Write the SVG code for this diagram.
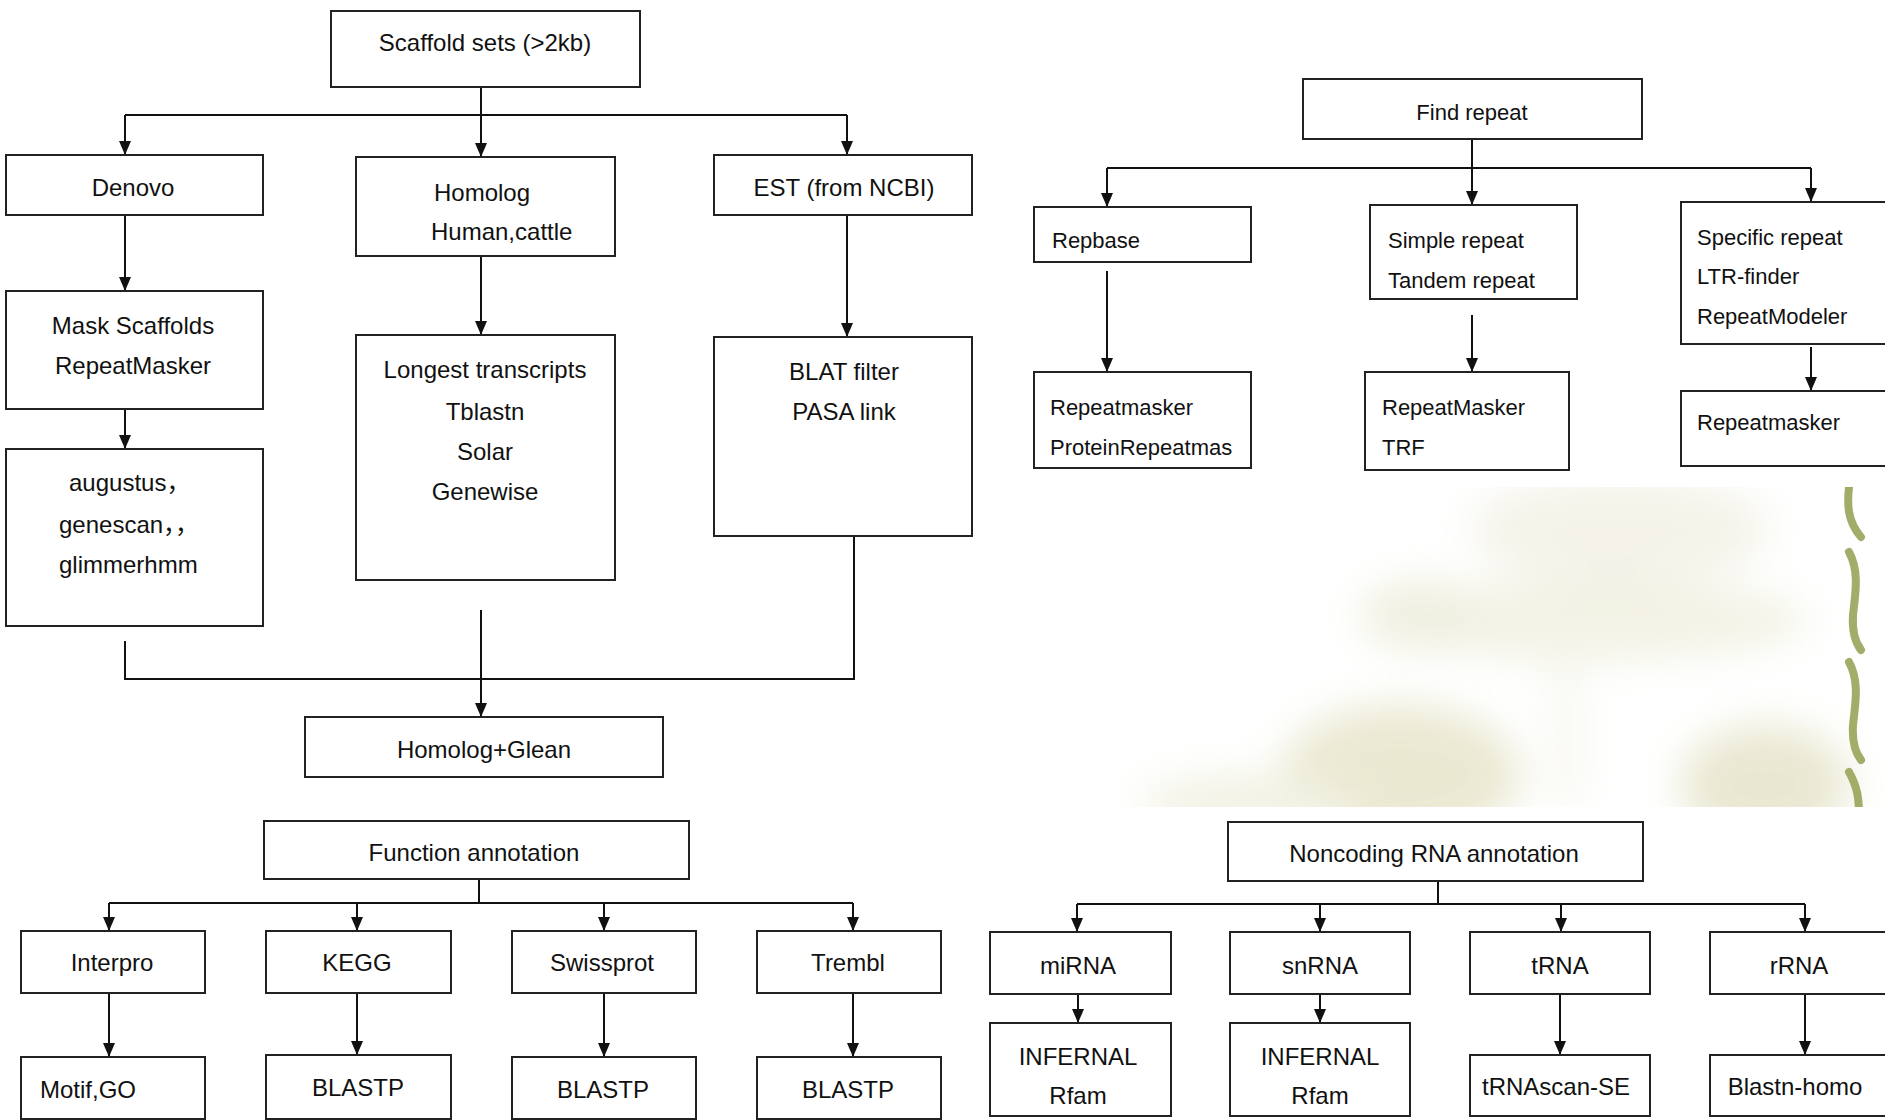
<svg xmlns="http://www.w3.org/2000/svg" width="1885" height="1120" viewBox="0 0 1885 1120">
<defs>
<style>
.box{fill:#fff;stroke:#222;stroke-width:2}
.t{font-family:"Liberation Sans",Arial,"Noto Sans CJK SC",sans-serif;font-size:24px;fill:#111}
.c{text-anchor:middle}
.s{font-size:22px}
.ln{fill:none;stroke:#111;stroke-width:2}
.ar{marker-end:url(#ah)}
</style>
<marker id="ah" viewBox="0 0 12 14" refX="6" refY="14" markerWidth="12" markerHeight="14" markerUnits="userSpaceOnUse" orient="0">
<path d="M0,0 L12,0 L6,14 z" fill="#111"/>
</marker>
<filter id="blur" x="-50%" y="-50%" width="200%" height="200%"><feGaussianBlur stdDeviation="20"/></filter>
<clipPath id="bgclip"><rect x="1100" y="487" width="785" height="320"/></clipPath>
</defs>
<rect width="1885" height="1120" fill="#fff"/>

<g id="background" clip-path="url(#bgclip)">
<g filter="url(#blur)" opacity="0.8">
<ellipse cx="1620" cy="530" rx="150" ry="55" fill="#f2f0e4"/>
<ellipse cx="1590" cy="620" rx="220" ry="40" fill="#f0efdf"/>
<ellipse cx="1420" cy="615" rx="60" ry="35" fill="#ecebd8"/>
<rect x="1555" y="640" width="22" height="170" fill="#f2f1e4"/>
<ellipse cx="1400" cy="775" rx="120" ry="70" fill="#e5e3c6"/>
<ellipse cx="1250" cy="805" rx="110" ry="30" fill="#efeedd"/>
<ellipse cx="1765" cy="785" rx="85" ry="60" fill="#e4e2c6"/>
</g>
<g fill="none" stroke="#a4ac6a" stroke-width="8" stroke-linecap="round">
<path d="M1850,480 C1846,505 1848,522 1861,537"/>
<path d="M1849,552 C1860,572 1855,595 1853,615 C1852,630 1855,642 1861,650"/>
<path d="M1849,662 C1860,682 1855,705 1853,725 C1852,740 1855,752 1861,760"/>
<path d="M1849,772 C1858,788 1859,800 1859,815"/>
</g>
</g>

<g id="connectors">
<path class="ln ar" d="M481,87 V157"/>
<path class="ln" d="M125,115 H847"/>
<path class="ln ar" d="M125,115 V155"/>
<path class="ln ar" d="M847,115 V155"/>
<path class="ln ar" d="M125,215 V291"/>
<path class="ln ar" d="M481,256 V335"/>
<path class="ln ar" d="M847,215 V337"/>
<path class="ln ar" d="M125,409 V449"/>
<path class="ln" d="M125,641 V679 H854 V536"/>
<path class="ln ar" d="M481,610 V717"/>

<path class="ln ar" d="M1472,139 V205"/>
<path class="ln" d="M1107,168 H1811"/>
<path class="ln ar" d="M1107,168 V207"/>
<path class="ln ar" d="M1811,168 V202"/>
<path class="ln ar" d="M1107,271 V372"/>
<path class="ln ar" d="M1472,315 V372"/>
<path class="ln ar" d="M1811,347 V391"/>

<path class="ln" d="M479,879 V903"/>
<path class="ln" d="M109,903 H853"/>
<path class="ln ar" d="M109,903 V931"/>
<path class="ln ar" d="M357,903 V931"/>
<path class="ln ar" d="M604,903 V931"/>
<path class="ln ar" d="M853,903 V931"/>
<path class="ln ar" d="M109,993 V1057"/>
<path class="ln ar" d="M357,993 V1055"/>
<path class="ln ar" d="M604,993 V1057"/>
<path class="ln ar" d="M853,993 V1057"/>

<path class="ln" d="M1438,881 V904"/>
<path class="ln" d="M1077,904 H1805"/>
<path class="ln ar" d="M1077,904 V932"/>
<path class="ln ar" d="M1320,904 V932"/>
<path class="ln ar" d="M1561,904 V932"/>
<path class="ln ar" d="M1805,904 V932"/>
<path class="ln ar" d="M1078,994 V1023"/>
<path class="ln ar" d="M1320,994 V1023"/>
<path class="ln ar" d="M1560,994 V1055"/>
<path class="ln ar" d="M1805,994 V1055"/>
</g>

<g id="scaffold"><rect class="box" x="331" y="11" width="309" height="76"/><text class="t c" x="485" y="51">Scaffold sets (&gt;2kb)</text></g>
<g id="denovo"><rect class="box" x="6" y="155" width="257" height="60"/><text class="t c" x="133" y="196">Denovo</text></g>
<g id="homolog"><rect class="box" x="356" y="157" width="259" height="99"/><text class="t" x="434" y="201">Homolog</text><text class="t" x="431" y="240">Human,cattle</text></g>
<g id="est"><rect class="box" x="714" y="155" width="258" height="60"/><text class="t c" x="844" y="196">EST (from NCBI)</text></g>
<g id="mask"><rect class="box" x="6" y="291" width="257" height="118"/><text class="t c" x="133" y="334">Mask Scaffolds</text><text class="t c" x="133" y="374">RepeatMasker</text></g>
<g id="augustus"><rect class="box" x="6" y="449" width="257" height="177"/><text class="t" x="69" y="491">augustus，</text><text class="t" x="59" y="533">genescan，，</text><text class="t" x="59" y="573">glimmerhmm</text></g>
<g id="longest"><rect class="box" x="356" y="335" width="259" height="245"/><text class="t c" x="485" y="378">Longest transcripts</text><text class="t c" x="485" y="420">Tblastn</text><text class="t c" x="485" y="460">Solar</text><text class="t c" x="485" y="500">Genewise</text></g>
<g id="blat"><rect class="box" x="714" y="337" width="258" height="199"/><text class="t c" x="844" y="380">BLAT filter</text><text class="t c" x="844" y="420">PASA link</text></g>
<g id="glean"><rect class="box" x="305" y="717" width="358" height="60"/><text class="t c" x="484" y="758">Homolog+Glean</text></g>

<g id="findrepeat"><rect class="box" x="1303" y="79" width="339" height="60"/><text class="t s c" x="1472" y="120">Find repeat</text></g>
<g id="repbase"><rect class="box" x="1034" y="207" width="217" height="55"/><text class="t s" x="1052" y="248">Repbase</text></g>
<g id="repeatmasker1"><rect class="box" x="1034" y="372" width="217" height="96"/><text class="t s" x="1050" y="415">Repeatmasker</text><text class="t s" x="1050" y="455">ProteinRepeatmas</text></g>
<g id="simple"><rect class="box" x="1370" y="205" width="207" height="94"/><text class="t s" x="1388" y="248">Simple repeat</text><text class="t s" x="1388" y="288">Tandem repeat</text></g>
<g id="repeatmasker2"><rect class="box" x="1365" y="372" width="204" height="98"/><text class="t s" x="1382" y="415">RepeatMasker</text><text class="t s" x="1382" y="455">TRF</text></g>
<g id="specific"><rect class="box" x="1681" y="202" width="220" height="142"/><text class="t s" x="1697" y="245">Specific repeat</text><text class="t s" x="1697" y="284">LTR-finder</text><text class="t s" x="1697" y="324">RepeatModeler</text></g>
<g id="repeatmasker3"><rect class="box" x="1681" y="391" width="220" height="75"/><text class="t s" x="1697" y="430">Repeatmasker</text></g>

<g id="function"><rect class="box" x="264" y="821" width="425" height="58"/><text class="t c" x="474" y="861">Function annotation</text></g>
<g id="interpro"><rect class="box" x="21" y="931" width="184" height="62"/><text class="t c" x="112" y="971">Interpro</text></g>
<g id="kegg"><rect class="box" x="266" y="931" width="185" height="62"/><text class="t c" x="357" y="971">KEGG</text></g>
<g id="swissprot"><rect class="box" x="512" y="931" width="184" height="62"/><text class="t c" x="602" y="971">Swissprot</text></g>
<g id="trembl"><rect class="box" x="757" y="931" width="184" height="62"/><text class="t c" x="848" y="971">Trembl</text></g>
<g id="motif"><rect class="box" x="21" y="1057" width="184" height="62"/><text class="t" x="40" y="1098">Motif,GO</text></g>
<g id="blastp1"><rect class="box" x="266" y="1055" width="185" height="64"/><text class="t c" x="358" y="1096">BLASTP</text></g>
<g id="blastp2"><rect class="box" x="512" y="1057" width="184" height="62"/><text class="t c" x="603" y="1098">BLASTP</text></g>
<g id="blastp3"><rect class="box" x="757" y="1057" width="184" height="62"/><text class="t c" x="848" y="1098">BLASTP</text></g>

<g id="ncrna"><rect class="box" x="1228" y="822" width="415" height="59"/><text class="t c" x="1434" y="862">Noncoding RNA annotation</text></g>
<g id="mirna"><rect class="box" x="990" y="932" width="181" height="62"/><text class="t c" x="1078" y="974">miRNA</text></g>
<g id="snrna"><rect class="box" x="1230" y="932" width="180" height="62"/><text class="t c" x="1320" y="974">snRNA</text></g>
<g id="trna"><rect class="box" x="1470" y="932" width="180" height="62"/><text class="t c" x="1560" y="974">tRNA</text></g>
<g id="rrna"><rect class="box" x="1710" y="932" width="190" height="62"/><text class="t c" x="1799" y="974">rRNA</text></g>
<g id="infernal1"><rect class="box" x="990" y="1023" width="181" height="93"/><text class="t c" x="1078" y="1065">INFERNAL</text><text class="t c" x="1078" y="1104">Rfam</text></g>
<g id="infernal2"><rect class="box" x="1230" y="1023" width="180" height="93"/><text class="t c" x="1320" y="1065">INFERNAL</text><text class="t c" x="1320" y="1104">Rfam</text></g>
<g id="trnascan"><rect class="box" x="1470" y="1055" width="180" height="61"/><text class="t c" x="1556" y="1095">tRNAscan-SE</text></g>
<g id="blastn"><rect class="box" x="1710" y="1055" width="190" height="61"/><text class="t c" x="1795" y="1095">Blastn-homo</text></g>
</svg>
